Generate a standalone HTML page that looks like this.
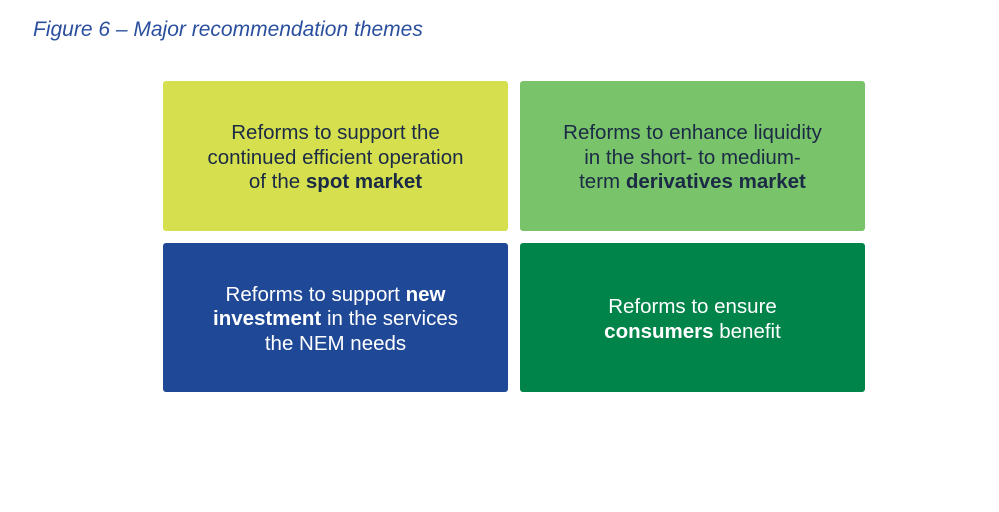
<!DOCTYPE html>
<html><head><meta charset="utf-8"><style>
body{margin:0;width:999px;height:512px;background:#fff;position:relative;font-family:"Liberation Sans",sans-serif;overflow:hidden}
.t{position:absolute;left:33px;top:18px;font-size:21px;font-style:italic;color:#2a4f9e}
.b{position:absolute;width:345px;display:flex;align-items:center;justify-content:center;text-align:center;font-size:20.5px;line-height:24.5px;border-radius:3px;box-sizing:border-box;padding-top:4px}
.b>div{width:100%}
.d{color:#1b2a45}.w{color:#fff}
</style></head><body>
<div class="t">Figure 6 – Major recommendation themes</div>
<div class="b d" style="left:163px;top:81px;height:150px;background:#d6e04f"><div>Reforms to support the<br>continued efficient operation<br>of the <b>spot market</b></div></div>
<div class="b d" style="left:520px;top:81px;height:150px;background:#79c36a"><div>Reforms to enhance liquidity<br>in the short- to medium-<br>term <b>derivatives market</b></div></div>
<div class="b w" style="left:163px;top:243px;height:149px;background:#1f4896"><div>Reforms to support <b>new</b><br><b>investment</b> in the services<br>the NEM needs</div></div>
<div class="b w" style="left:520px;top:243px;height:149px;background:#00844a"><div>Reforms to ensure<br><b>consumers</b> benefit</div></div>
</body></html>
